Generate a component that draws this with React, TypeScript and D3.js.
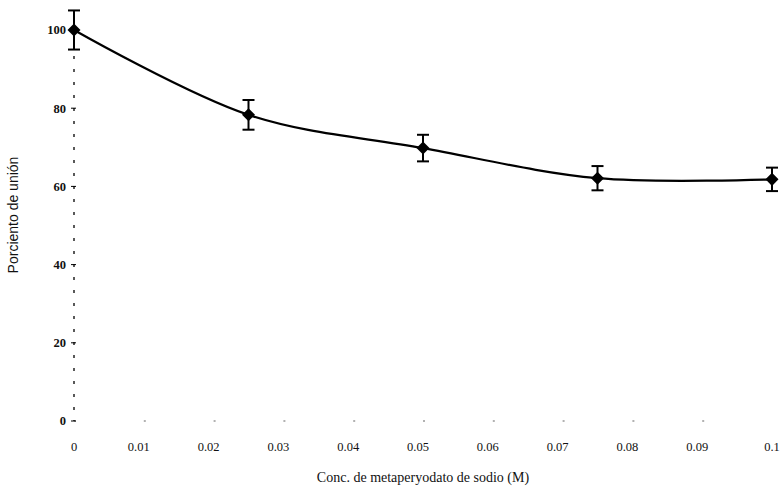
import React from "react";
import * as d3 from "d3";

const concentrations = [0, 0.025, 0.05, 0.075, 0.1];
const bindingPercent = [100, 78.3, 69.8, 62.1, 61.8];
const errors = [5.0, 3.8, 3.4, 3.1, 3.0];
const xTicks = [0, 0.01, 0.02, 0.03, 0.04, 0.05, 0.06, 0.07, 0.08, 0.09, 0.1];
const xTickLabels = ["0", "0.01", "0.02", "0.03", "0.04", "0.05", "0.06", "0.07", "0.08", "0.09", "0.1"];
const yTicks = [0, 20, 40, 60, 80, 100];

const W = 783;
const H = 494;

export default function App() {
  const x = d3.scaleLinear().domain([0, 0.1]).range([74, 772]);
  const y = d3.scaleLinear().domain([0, 100]).range([421, 30]);

  const pts = concentrations.map((c, i) => ({ c, v: bindingPercent[i], e: errors[i] }));
  const line = d3
    .line<{ c: number; v: number }>()
    .x((d) => x(d.c))
    .y((d) => y(d.v))
    .curve(d3.curveCatmullRom.alpha(0.5));

  const serif = "'Liberation Serif', 'DejaVu Serif', serif";
  const sans = "'Liberation Sans', Arial, sans-serif";
  const diamond = d3.symbol().type(d3.symbolSquare).size(85)();

  return (
    <svg
      width={W}
      height={H}
      viewBox={`0 0 ${W} ${H}`}
      style={{ position: "absolute", left: 0, top: 0, background: "#fff" }}
    >
      {/* y axis (dashed, as in scan) */}
      <line
        x1={x(0)}
        x2={x(0)}
        y1={y(100)}
        y2={y(0)}
        stroke="#000"
        strokeWidth={1.3}
        strokeDasharray="3,10"
      />
      {/* x axis faint dotted */}
      <line
        x1={x(0)}
        x2={x(0.1)}
        y1={y(0)}
        y2={y(0)}
        stroke="#000"
        strokeWidth={1.2}
        strokeDasharray="2,67.8"
        opacity={0.6}
      />
      {yTicks.map((t) => (
        <g key={t}>
          <line x1={x(0) - 3} x2={x(0) + 2} y1={y(t)} y2={y(t)} stroke="#000" strokeWidth={1} />
          <text
            x={66}
            y={y(t)}
            dy="0.35em"
            textAnchor="end"
            fontFamily={serif}
            fontSize={12.5}
            fontWeight="bold"
            fill="#111"
          >
            {t}
          </text>
        </g>
      ))}
      {xTicks.map((t, i) => (
        <text
          key={t}
          x={x(t) - (i === 0 || i === xTicks.length - 1 ? 0 : 5)}
          y={451}
          textAnchor="middle"
          fontFamily={serif}
          fontSize={12.5}
          fill="#111"
        >
          {xTickLabels[i]}
        </text>
      ))}
      <text
        x={423}
        y={482}
        textAnchor="middle"
        fontFamily={serif}
        fontSize={14}
        fill="#111"
      >
        Conc. de metaperyodato de sodio (M)
      </text>
      <text
        transform={`translate(18, 215) rotate(-90)`}
        textAnchor="middle"
        fontFamily={sans}
        fontSize={14}
        fill="#111"
      >
        Porciento de unión
      </text>

      {/* curve */}
      <path d={line(pts) || ""} fill="none" stroke="#000" strokeWidth={2.2} />

      {/* error bars */}
      {pts.map((p, i) => (
        <g key={i} stroke="#000" strokeWidth={2}>
          <line x1={x(p.c)} x2={x(p.c)} y1={y(p.v + p.e)} y2={y(p.v - p.e)} />
          <line x1={x(p.c) - 6} x2={x(p.c) + 6} y1={y(p.v + p.e)} y2={y(p.v + p.e)} />
          <line x1={x(p.c) - 6} x2={x(p.c) + 6} y1={y(p.v - p.e)} y2={y(p.v - p.e)} />
        </g>
      ))}
      {/* markers */}
      {pts.map((p, i) => (
        <path
          key={i}
          d={diamond || ""}
          transform={`translate(${x(p.c)},${y(p.v)}) rotate(45)`}
          fill="#000"
        />
      ))}
    </svg>
  );
}
